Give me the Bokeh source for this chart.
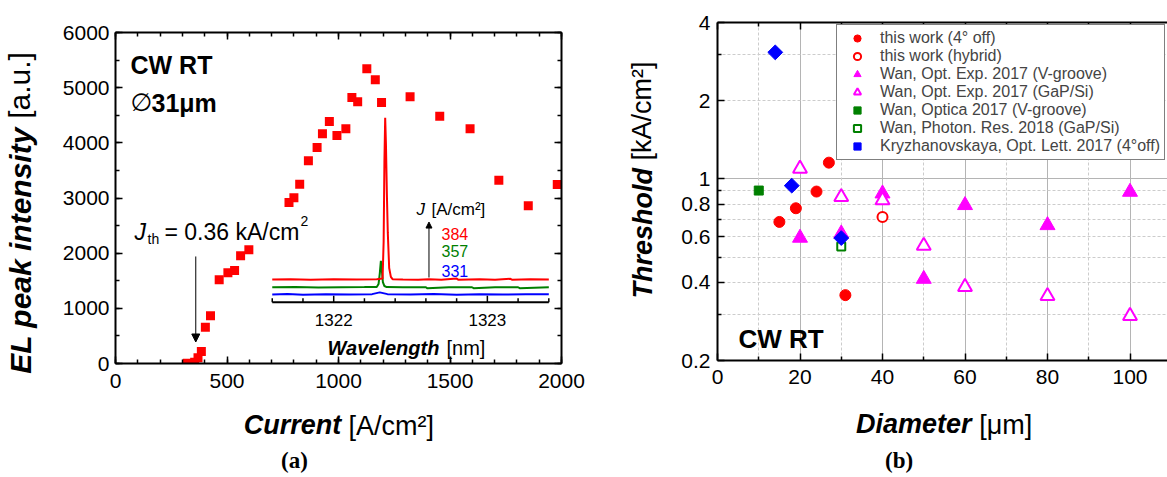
import math
import json
from bokeh.plotting import figure
from bokeh.models import (Range1d, LinearAxis, LogAxis, FixedTicker, Label, Legend, LegendItem,
                          Arrow, NormalHead, Grid, CustomJSTickFormatter, Div)
from bokeh.layouts import row, column
from bokeh.core.properties import value
from bokeh.embed import file_html
from bokeh.resources import INLINE

FONT = "Liberation Sans"
SERIF = "Liberation Serif"

# ---------------- (a) EL peak intensity vs current ----------------
current = [322, 355, 370, 385, 403, 426, 465, 504, 534, 561, 598, 640, 690, 732,
           778, 800, 826, 865, 904, 928, 959, 993, 1033, 1060, 1086, 1127, 1165,
           1193, 1321, 1454, 1590, 1719, 1851, 1981]
el_intensity = [5, 24, 103, 218, 658, 865, 1518, 1644, 1686, 1953, 2061, 2254, 2330, 2342,
                2919, 3004, 3251, 3675, 3916, 4164, 4387, 4134, 4255, 4823, 4745, 5343, 5143,
                4732, 4835, 4484, 4255, 3324, 2859, 3245]
J_TH = 360  # A/cm^2

# inset spectra (wavelength nm, intensity offset a.u.)
wl_red = [1321.60, 1321.72, 1321.85, 1322.00, 1322.15, 1322.28, 1322.318, 1322.325, 1322.330,
          1322.335, 1322.340, 1322.346, 1322.352, 1322.361, 1322.372, 1322.383, 1322.45,
          1322.55, 1322.62, 1322.70, 1322.80, 1322.81, 1322.95, 1323.05, 1323.15, 1323.16,
          1323.28, 1323.40]
int_red = [0.085, 0.087, 0.084, 0.086, 0.085, 0.086, 0.090, 0.300, 0.750,
           1.000, 0.850, 0.570, 0.350, 0.150, 0.100, 0.087, 0.085,
           0.083, 0.086, 0.084, 0.090, 0.084, 0.086, 0.084, 0.089, 0.084,
           0.086, 0.085]
wl_green = [1321.60, 1321.75, 1321.90, 1322.05, 1322.20, 1322.280, 1322.292, 1322.300,
            1322.307, 1322.313, 1322.320, 1322.330, 1322.345, 1322.45, 1322.60, 1322.61,
            1322.75, 1322.90, 1322.91, 1323.05, 1323.20, 1323.21, 1323.40]
int_green = [0.041, 0.042, 0.040, 0.041, 0.042, 0.043, 0.060, 0.120,
             0.190, 0.140, 0.070, 0.048, 0.042, 0.041, 0.041, 0.035,
             0.041, 0.041, 0.036, 0.041, 0.041, 0.036, 0.041]
wl_blue = [1321.60, 1321.70, 1321.80, 1321.95, 1322.10, 1322.25, 1322.30, 1322.35, 1322.50,
           1322.65, 1322.80, 1322.95, 1323.10, 1323.25, 1323.40]
int_blue = [0.000, 0.003, -0.002, 0.002, 0.000, 0.002, 0.012, 0.002, 0.000,
            0.003, -0.001, 0.002, 0.000, 0.002, 0.001]
inset_span = [1321.6, 1323.4]
inset_major = [1322, 1323]
inset_minor = [1321.6, 1321.8, 1322.2, 1322.4, 1322.6, 1322.8, 1323.2, 1323.4]
inset_tick_labels = ["1322", "1323"]
j_levels = ["384", "357", "331"]
j_colors = ["#ff0000", "#008000", "#0000ff"]

# ---------------- (b) threshold vs diameter ----------------
tw_d = [15, 19, 24, 27, 31]
tw_t = [0.683, 0.771, 0.894, 1.155, 0.357]
hy_d = [40]
hy_t = [0.713]
wv_d = [20, 30, 40, 50, 60, 80, 100]
wv_t = [0.593, 0.616, 0.878, 0.412, 0.792, 0.663, 0.891]
wg_d = [20, 30, 40, 50, 60, 80, 100]
wg_t = [1.095, 0.852, 0.828, 0.553, 0.384, 0.354, 0.297]
op_d = [10]
op_t = [0.902]
pr_d = [30]
pr_t = [0.549]
kr_d = [14, 18, 30]
kr_t = [3.07, 0.942, 0.592]
legend_labels = ["this work (4\u00b0 off)", "this work (hybrid)",
                 "Wan, Opt. Exp. 2017 (V-groove)", "Wan, Opt. Exp. 2017 (GaP/Si)",
                 "Wan, Optica 2017 (V-groove)", "Wan, Photon. Res. 2018 (GaP/Si)",
                 "Kryzhanovskaya, Opt. Lett. 2017 (4\u00b0off)"]
y_ticks_b = [0.2, 0.4, 0.6, 0.8, 1, 2, 4]
y_minor_b = [0.3, 0.5, 0.7, 0.9, 3]


def style_axis(ax, ticks, minor, size="21px", standoff=6, show=True):
    ax.ticker = FixedTicker(ticks=ticks, minor_ticks=minor)
    ax.axis_line_width = 2
    ax.axis_line_color = "black"
    ax.major_tick_in = 7
    ax.major_tick_out = 0
    ax.minor_tick_in = 4
    ax.minor_tick_out = 0
    ax.major_tick_line_width = 1.5
    ax.minor_tick_line_width = 1.5
    ax.major_tick_line_color = "black"
    ax.minor_tick_line_color = "black"
    if show:
        ax.major_label_text_font = FONT
        ax.major_label_text_font_size = size
        ax.major_label_text_color = "black"
        ax.major_label_standoff = standoff
    else:
        ax.formatter = CustomJSTickFormatter(code="return ''")
        ax.major_label_text_font_size = "1px"
        ax.major_label_standoff = 0


def title_axis(p, side, pos, text, size, style, standoff, font=FONT, vertical=False, log=False):
    """A tick-less axis whose single tick label carries an outer title text."""
    cls = LogAxis if log else LinearAxis
    ax = cls(ticker=FixedTicker(ticks=[pos], minor_ticks=[]),
             formatter=CustomJSTickFormatter(code="return " + json.dumps(text) + ";"))
    ax.axis_line_color = None
    ax.major_tick_line_color = None
    ax.minor_tick_line_color = None
    ax.major_tick_in = 0
    ax.major_tick_out = 0
    ax.minor_tick_in = 0
    ax.minor_tick_out = 0
    ax.major_label_text_font = font
    ax.major_label_text_font_size = f"{size}px"
    ax.major_label_text_font_style = style
    ax.major_label_text_color = "black"
    ax.major_label_standoff = standoff
    if vertical:
        ax.major_label_orientation = "vertical"
    p.add_layout(ax, side)


def lab(p, x, y, text, size, style="normal", font=FONT, color="black", angle=0,
        align="left", baseline="alphabetic", bg=None):
    l = Label(x=x, y=y, x_units="screen", y_units="screen", text=text, text_font=font,
              text_font_size=f"{size}px", text_font_style=style, text_color=color,
              angle=angle, text_align=align, text_baseline=baseline)
    if bg is not None:
        l.background_fill_color = bg
    p.add_layout(l)


def caption(text, width, left):
    html = ('<div style="margin-left:%dpx;font-family:\'Liberation Serif\';font-weight:bold;'
            'font-size:23px;line-height:16px;white-space:nowrap;color:black;">%s</div>' % (left, text))
    return Div(text=html, width=width, height=24, margin=(0, 0, 0, 0))


# ================= figure (a) =================
p1 = figure(width=588, height=453, x_range=Range1d(0, 2000), y_range=Range1d(0, 6000),
            output_backend="svg", toolbar_location=None,
            min_border_left=114, min_border_right=27, min_border_top=32, min_border_bottom=90)
p1.title.visible = False
p1.outline_line_color = None
p1.grid.visible = False
p1.background_fill_color = "white"
p1.border_fill_color = "white"

x_major_a = [0, 500, 1000, 1500, 2000]
x_minor_a = list(range(0, 2001, 100))
y_major_a = [0, 1000, 2000, 3000, 4000, 5000, 6000]
y_minor_a = list(range(0, 6001, 500))
style_axis(p1.xaxis[0], x_major_a, x_minor_a, standoff=10)
style_axis(p1.yaxis[0], y_major_a, y_minor_a, standoff=6)
top_a = LinearAxis()
style_axis(top_a, x_major_a, x_minor_a, show=False)
p1.add_layout(top_a, "above")
right_a = LinearAxis()
style_axis(right_a, y_major_a, y_minor_a, show=False)
p1.add_layout(right_a, "right")

# outer titles of (a)
title_axis(p1, "below", 794, "Current", 27, "bold italic", 19)
title_axis(p1, "below", 1237, "[A/cm\u00b2]", 27, "normal", -32)
title_axis(p1, "left", 2049, "EL peak intensity", 30, "bold italic", 22, vertical=True)
title_axis(p1, "left", 5040, "[a.u.]", 30, "normal", -35, vertical=True)

p1.scatter(current, el_intensity, marker="square", size=9, fill_color="#ff0000", line_color=None)

# inset coordinate system
p1.extra_x_ranges = {"wl": Range1d(1320.5799, 1323.4825)}
p1.extra_y_ranges = {"int": Range1d(-0.3905, 1.4828)}
INSET_AXIS_Y = -0.0436
p1.line(wl_blue, int_blue, x_range_name="wl", y_range_name="int", line_color="#0000ff", line_width=2)
p1.line(wl_green, int_green, x_range_name="wl", y_range_name="int", line_color="#008000", line_width=2)
p1.line(wl_red, int_red, x_range_name="wl", y_range_name="int", line_color="#ff0000", line_width=2)
p1.segment(x0=[inset_span[0]], x1=[inset_span[1]], y0=[INSET_AXIS_Y], y1=[INSET_AXIS_Y],
           x_range_name="wl", y_range_name="int", line_color="black", line_width=2)
p1.segment(x0=inset_major, x1=inset_major, y0=[INSET_AXIS_Y] * len(inset_major),
           y1=[INSET_AXIS_Y + 0.036] * len(inset_major),
           x_range_name="wl", y_range_name="int", line_color="black", line_width=1.5)
p1.segment(x0=inset_minor, x1=inset_minor, y0=[INSET_AXIS_Y] * len(inset_minor),
           y1=[INSET_AXIS_Y + 0.023] * len(inset_minor),
           x_range_name="wl", y_range_name="int", line_color="black", line_width=1.5)
p1.text(x=inset_major, y=[-0.1415] * len(inset_major), text=inset_tick_labels,
        x_range_name="wl", y_range_name="int", text_font=value(FONT), text_font_size="17px",
        text_align="center", text_baseline="middle", text_color="black")

p1.add_layout(Arrow(x_start=1322.62, y_start=0.096, x_end=1322.62, y_end=0.41,
                    x_range_name="wl", y_range_name="int", line_width=1, line_color="black",
                    end=NormalHead(size=6, fill_color="black", line_color="black")))
p1.add_layout(Arrow(x_start=J_TH, y_start=1940, x_end=J_TH, y_end=390, line_width=1,
                    line_color="black",
                    end=NormalHead(size=8, fill_color="black", line_color="black")))

# texts inside (a)
lab(p1, 15, 299, "CW RT", 25, "bold")
lab(p1, 15, 261, "\u2205", 25, font="DejaVu Sans")
lab(p1, 36, 261, "31\u03bcm", 25, "bold")
lab(p1, 19, 132, "J", 23, "italic", bg="white")
lab(p1, 32, 125, "th", 14, bg="white")
lab(p1, 49, 132, "= 0.36 kA/cm", 23, bg="white")
lab(p1, 185, 143, "2", 14)
lab(p1, 301, 154, "J", 17, "italic")
lab(p1, 316, 154, "[A/cm\u00b2]", 17)
for txt, col, yy in zip(j_levels, j_colors, [130, 113, 93]):
    lab(p1, 326, yy, txt, 16, color=col)
lab(p1, 212, 16, "Wavelength", 20, "bold italic")
lab(p1, 331, 16, "[nm]", 20)

# ================= figure (b) =================
p2 = figure(width=579, height=453, x_range=Range1d(0, 109.09), y_range=Range1d(0.2, 4),
            y_axis_type="log", output_backend="svg", toolbar_location=None,
            min_border_left=129, min_border_right=0, min_border_top=22, min_border_bottom=93)
p2.title.visible = False
p2.outline_line_color = None
p2.background_fill_color = "white"
p2.border_fill_color = "white"

x_major_b = [0, 20, 40, 60, 80, 100]
x_minor_b = [10, 30, 50, 70, 90]
style_axis(p2.xaxis[0], x_major_b, x_minor_b, standoff=9)
style_axis(p2.yaxis[0], y_ticks_b, y_minor_b, standoff=7)
p2.yaxis[0].formatter = CustomJSTickFormatter(code="return tick.toString()")
top_b = LinearAxis()
style_axis(top_b, x_major_b, x_minor_b, show=False)
p2.add_layout(top_b, "above")

title_axis(p2, "below", 47.6, "Diameter", 27, "bold italic", 22)
title_axis(p2, "below", 69.9, "[\u03bcm]", 27, "normal", -32)
title_axis(p2, "left", 0.618, "Threshold", 27, "bold italic", 20, vertical=True, log=True)
title_axis(p2, "left", 1.825, "[kA/cm\u00b2]", 27, "normal", -32, vertical=True, log=True)

p2.xgrid.ticker = FixedTicker(ticks=[20, 40, 60, 80, 100])
p2.xgrid.grid_line_color = "#b4b4b4"
p2.ygrid.ticker = FixedTicker(ticks=[1])
p2.ygrid.grid_line_color = "#b4b4b4"
p2.add_layout(Grid(dimension=0, ticker=FixedTicker(ticks=x_minor_b),
                   grid_line_color="#cccccc", grid_line_dash="3 2"))
p2.add_layout(Grid(dimension=1, ticker=FixedTicker(ticks=[0.3, 0.4, 0.5, 0.6, 0.7, 0.8, 0.9, 2, 3]),
                   grid_line_color="#cccccc", grid_line_dash="3 2"))

r1 = p2.scatter(tw_d, tw_t, marker="circle", size=11, fill_color="#ff0000", line_color="#ff0000")
r2 = p2.scatter(hy_d, hy_t, marker="circle", size=10, fill_color="white", line_color="#ff0000", line_width=2)
r3 = p2.scatter(wv_d, wv_t, marker="triangle", size=15, fill_color="#ff00ff", line_color="#ff00ff")
r4 = p2.scatter(wg_d, wg_t, marker="triangle", size=14, fill_color="white", line_color="#ff00ff", line_width=2)
r5 = p2.scatter(op_d, op_t, marker="square", size=9, fill_color="#008000", line_color="#008000")
r6 = p2.scatter(pr_d, pr_t, marker="square", size=8, fill_color="white", line_color="#008000", line_width=2)
r7 = p2.scatter(kr_d, kr_t, marker="square", size=10.5, angle=math.pi / 4,
                fill_color="#0000ff", line_color="#0000ff")

legend = Legend(items=[LegendItem(label=t, renderers=[r]) for t, r in
                       zip(legend_labels, [r1, r2, r3, r4, r5, r6, r7])],
                location=(119, 200))
legend.label_text_font = FONT
legend.label_text_font_size = "16px"
legend.glyph_height = 18
legend.glyph_width = 32
legend.label_height = 18
legend.label_standoff = 7
legend.spacing = 0
legend.padding = 4
legend.margin = 0
legend.border_line_color = "black"
legend.border_line_width = 1
legend.background_fill_color = "white"
legend.background_fill_alpha = 1.0
p2.add_layout(legend)

lab(p2, 21, 22, "CW RT", 26, "bold")

layout = row(column(p1, caption("(a)", 588, 281)),
             column(p2, caption("(b)", 579, 297)))
open("out.html", "w").write(file_html(layout, INLINE))
